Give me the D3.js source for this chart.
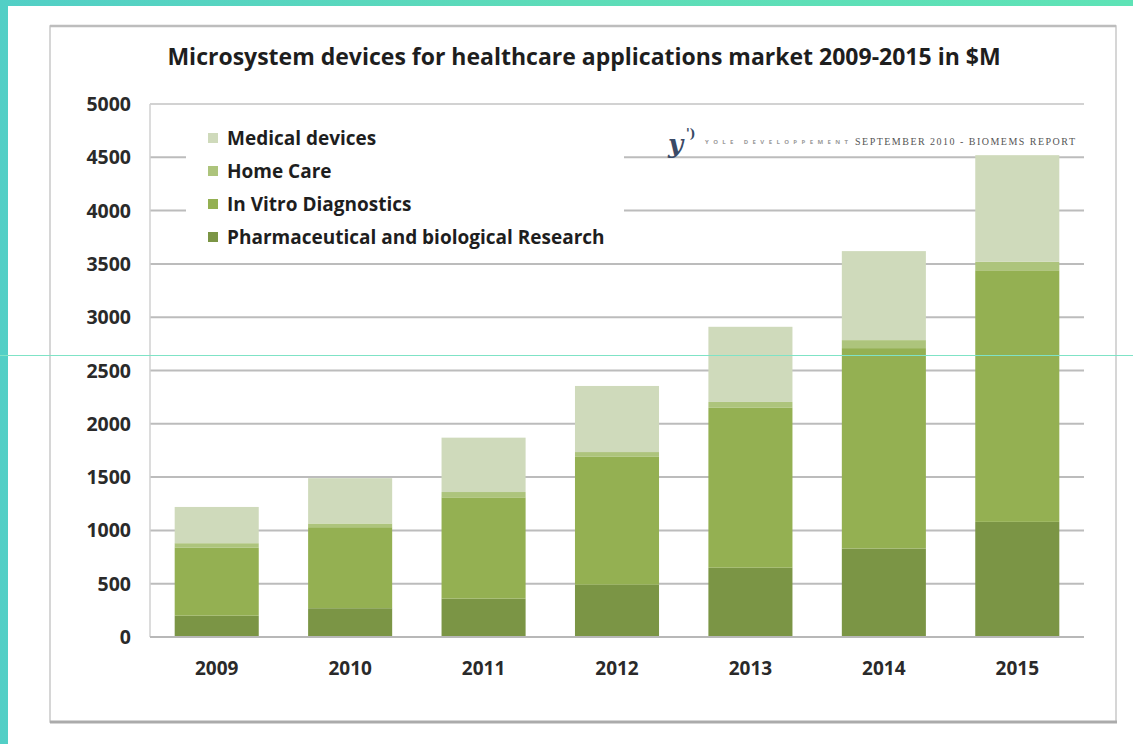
<!DOCTYPE html>
<html>
<head>
<meta charset="utf-8">
<script src="https://cdn.jsdelivr.net/npm/d3@7"></script>
<style>
  html, body { margin: 0; padding: 0; background: #fff; }
  svg { display: block; }
</style>
</head>
<body>
<svg id="chart" width="1133" height="744"></svg>
<script>
// Market for microsystem devices in healthcare, $M per year, by segment
const years = ["2009", "2010", "2011", "2012", "2013", "2014", "2015"];
const pharmaResearch = [200, 270, 360, 490, 650, 830, 1080];
const inVitroDiagnostics = [640, 760, 950, 1200, 1500, 1880, 2360];
const homeCare = [40, 35, 50, 45, 55, 75, 80];
const medicalDevices = [340, 425, 510, 620, 705, 835, 1000];
const yTicks = [0, 500, 1000, 1500, 2000, 2500, 3000, 3500, 4000, 4500, 5000];

// Stacking order bottom → top; legend lists them top → bottom
const seriesNames = ["Pharmaceutical and biological Research", "In Vitro Diagnostics", "Home Care", "Medical devices"];
const seriesValues = [pharmaResearch, inVitroDiagnostics, homeCare, medicalDevices];
const seriesColors = ["#7b9545", "#94b052", "#adc47c", "#cfdabb"];

const svg = d3.select("#chart");
const W = 1133, H = 744;
const font = "'Open Sans', Lato, sans-serif";

// teal page backdrop
const grad = svg.append("defs").append("linearGradient")
  .attr("id", "teal").attr("x1", "0").attr("x2", "1").attr("y1", "0").attr("y2", "0");
grad.append("stop").attr("offset", "0").attr("stop-color", "#52cfc6");
grad.append("stop").attr("offset", "0.5").attr("stop-color", "#5ddcb8");
grad.append("stop").attr("offset", "1").attr("stop-color", "#5ee3b6");
svg.append("rect").attr("width", W).attr("height", H).attr("fill", "url(#teal)");
svg.append("rect").attr("x", 8).attr("y", 6).attr("width", W - 8).attr("height", H - 6).attr("fill", "#fff");

// chart frame
svg.append("rect").attr("x", 50).attr("y", 26).attr("width", 1066).attr("height", 696)
  .attr("fill", "#fff").attr("stroke", "#c9c9c9").attr("stroke-width", 1.5);
svg.append("line").attr("x1", 50).attr("x2", 1117).attr("y1", 722).attr("y2", 722)
  .attr("stroke", "#ababab").attr("stroke-width", 3);
svg.append("line").attr("x1", 50).attr("x2", 1116).attr("y1", 26).attr("y2", 26)
  .attr("stroke", "#bdbdbd").attr("stroke-width", 2.5);

// title
svg.append("text").attr("x", 584).attr("y", 65).attr("text-anchor", "middle")
  .attr("font-family", font).attr("font-weight", 700).attr("font-size", 23)
  .attr("fill", "#1e1e1e")
  .text("Microsystem devices for healthcare applications market 2009-2015 in $M");

// scales
const x = d3.scaleBand().domain(years).range([150, 1084]).paddingInner(0.37).paddingOuter(0.185);
const y = d3.scaleLinear().domain([0, 5000]).range([637, 104]);

// gridlines
svg.append("g").selectAll("line").data(yTicks.filter(t => t > 0)).join("line")
  .attr("x1", 150).attr("x2", 1084)
  .attr("y1", d => y(d)).attr("y2", d => y(d))
  .attr("stroke", d => d === 5000 ? "#d2d2d2" : "#bcbcbc").attr("stroke-width", 2);
svg.append("line").attr("x1", 150).attr("x2", 150).attr("y1", y(5000)).attr("y2", y(0))
  .attr("stroke", "#d0d0d0").attr("stroke-width", 1.5);

// stacked bars
const table = years.map((yr, i) => {
  const row = { year: yr };
  seriesNames.forEach((n, s) => { row[n] = seriesValues[s][i]; });
  return row;
});
const stacked = d3.stack().keys(seriesNames)(table);
svg.append("g").selectAll("g").data(stacked).join("g")
  .attr("fill", (d, i) => seriesColors[i])
  .selectAll("rect").data(d => d).join("rect")
  .attr("x", d => x(d.data.year))
  .attr("width", x.bandwidth())
  .attr("y", d => y(d[1]))
  .attr("height", d => y(d[0]) - y(d[1]));

// baseline
svg.append("line").attr("x1", 150).attr("x2", 1084).attr("y1", y(0)).attr("y2", y(0))
  .attr("stroke", "#b8b8b8").attr("stroke-width", 2);

// y tick labels
svg.append("g").selectAll("text").data(yTicks).join("text")
  .attr("x", 131).attr("y", d => y(d)).attr("dy", "0.36em")
  .attr("text-anchor", "end")
  .attr("font-family", font).attr("font-weight", 700).attr("font-size", 19.5)
  .attr("fill", "#2a2a2a")
  .text(d => d);

// x tick labels
svg.append("g").selectAll("text").data(years).join("text")
  .attr("x", d => x(d) + x.bandwidth() / 2).attr("y", 668).attr("dy", "0.36em")
  .attr("text-anchor", "middle")
  .attr("font-family", font).attr("font-weight", 700).attr("font-size", 19)
  .attr("fill", "#2a2a2a")
  .text(d => d);

// legend panel
svg.append("rect").attr("x", 186).attr("y", 113).attr("width", 438).attr("height", 143).attr("fill", "#fff");
const legendOrder = [3, 2, 1, 0];
const lg = svg.append("g").selectAll("g").data(legendOrder).join("g")
  .attr("transform", (s, i) => `translate(208, ${138 + i * 33})`);
lg.append("rect").attr("x", 0).attr("y", -5).attr("width", 10).attr("height", 10)
  .attr("fill", s => seriesColors[s]);
lg.append("text").attr("x", 19).attr("y", 0).attr("dy", "0.36em")
  .attr("font-family", font).attr("font-weight", 700).attr("font-size", 19)
  .attr("fill", "#1e1e1e")
  .text(s => seriesNames[s]);

// publisher mark
const logo = svg.append("g");
logo.append("text").attr("x", 668).attr("y", 153)
  .attr("font-family", "'DejaVu Serif', serif").attr("font-style", "italic").attr("font-weight", 700)
  .attr("font-size", 26).attr("fill", "#3a4a66").text("y");
logo.append("text").attr("x", 686).attr("y", 138)
  .attr("font-family", "'DejaVu Serif', serif").attr("font-weight", 700)
  .attr("font-size", 12).attr("fill", "#3a4a66").text("'\u0029");
logo.append("text").attr("x", 705).attr("y", 144)
  .attr("font-family", font).attr("font-size", 6).attr("font-weight", 700)
  .attr("fill", "#9a9a9a").attr("textLength", 143)
  .text("YOLE DEVELOPPEMENT");
logo.append("text").attr("x", 855).attr("y", 145)
  .attr("font-family", "'Liberation Serif', serif").attr("font-size", 10)
  .attr("fill", "#555").attr("textLength", 220)
  .text("SEPTEMBER 2010 - BIOMEMS REPORT");

// thin guide rule across the page
svg.append("line").attr("x1", 0).attr("x2", W).attr("y1", 355.5).attr("y2", 355.5)
  .attr("stroke", "#7fe3c6").attr("stroke-width", 1);
</script>
</body>
</html>
